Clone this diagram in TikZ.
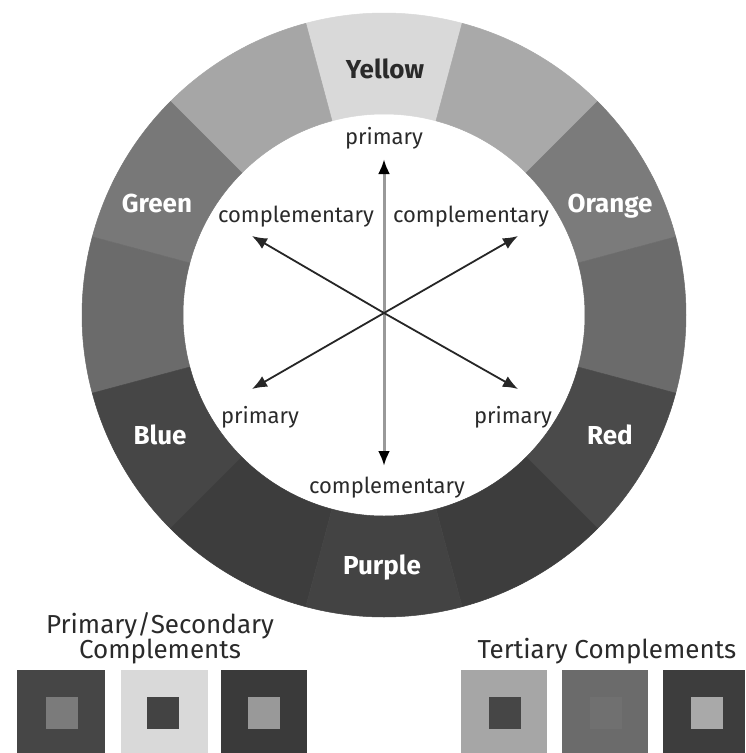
\documentclass[tikz,border=0pt]{standalone}
\usepackage{fontspec}
\setmainfont{Fira Sans}
\usetikzlibrary{arrows.meta}
\definecolor{cY}{HTML}{D9D9D9}
\definecolor{cYO}{HTML}{A9A9A9}
\definecolor{cYG}{HTML}{A6A6A6}
\definecolor{cO}{HTML}{7B7B7B}
\definecolor{cG}{HTML}{787878}
\definecolor{cRO}{HTML}{6B6B6B}
\definecolor{cBG}{HTML}{6B6B6B}
\definecolor{cR}{HTML}{4A4A4A}
\definecolor{cB}{HTML}{464646}
\definecolor{cRP}{HTML}{3D3D3D}
\definecolor{cBP}{HTML}{3D3D3D}
\definecolor{cP}{HTML}{434343}
\definecolor{sw3out}{HTML}{3A3A3A}
\definecolor{sw3in}{HTML}{999999}
\definecolor{sw5in}{HTML}{707070}
\definecolor{txtdark}{HTML}{2A2A2A}
\definecolor{vline}{HTML}{999999}
\begin{document}
\begin{tikzpicture}[x=1pt,y=-1pt,
  inlabel/.style={anchor=base,inner sep=0pt,text=txtdark,font=\fontsize{22}{24}\selectfont},
  collabel/.style={anchor=base,inner sep=0pt,text=white,font=\fontsize{26}{28}\selectfont\bfseries},
  title/.style={anchor=base,inner sep=0pt,text=txtdark,font=\fontsize{26}{28}\selectfont},
  tip/.style={Latex[length=15pt,width=12pt,color=black]},
  diag/.style={draw=black!85,line width=1.8pt,{Latex[length=15pt,width=12pt]}-{Latex[length=15pt,width=12pt]}},
  vert/.style={draw=vline,line width=3pt,{Latex[length=15pt,width=12pt,color=black]}-{Latex[length=15pt,width=12pt,color=black]}}
]
\useasboundingbox (0,0) rectangle (745,753);
\fill[white] (0,0) rectangle (745,753);

% colour wheel
\begin{scope}[shift={(384,315)},y=1pt]
  \foreach \a/\c in {90/cY,60/cYO,120/cYG,30/cO,150/cG,0/cRO,180/cBG,-30/cR,210/cB,-60/cRP,240/cBP,270/cP}{
    \filldraw[fill=\c,draw=\c,line width=0.5pt,line join=round] ({\a-15}:302) arc[start angle=\a-15,end angle=\a+15,radius=302]
      -- ({\a+15}:201) arc[start angle=\a+15,end angle=\a-15,radius=201] -- cycle;
  }
\end{scope}

% arrows
\coordinate (O) at (384,313);
\coordinate (tT) at (384,159);
\coordinate (tB) at (384,466);
\coordinate (tUL) at (252,236);
\coordinate (tUR) at (518,236);
\coordinate (tLL) at (252,389);
\coordinate (tLR) at (518,389);
\draw[vert] (tB) -- (O) -- (tT);
\draw[diag] (tLL) -- (O) -- (tUR);
\draw[diag] (tUL) -- (O) -- (tLR);

% inner labels
\node[inlabel] (pT) at (384,144) {primary};
\node[inlabel] (cL) at (296,222) {complementary};
\node[inlabel] (cR) at (471,222) {complementary};
\node[inlabel] (pL) at (260,423) {primary};
\node[inlabel] (pR) at (513,423) {primary};
\node[inlabel] (cB) at (387,493) {complementary};

% colour names
\node[collabel,text=txtdark] (yellow) at (385,78) {Yellow};
\node[collabel] (green) at (157,212) {Green};
\node[collabel] (orange) at (610,212) {Orange};
\node[collabel] (blue) at (160,444) {Blue};
\node[collabel] (red) at (610,444) {Red};
\node[collabel] (purple) at (382,574) {Purple};

% bottom titles
\node[title] (t1) at (160,633) {Primary/Secondary};
\node[title] (t2) at (160,658) {Complements};
\node[title] (t3) at (607,658) {Tertiary Complements};

% swatches
\fill[cB] (17,670) rectangle (105,753);
\fill[cO] (46,697) rectangle (78,729);
\fill[cY] (121,670) rectangle (208,753);
\fill[cP] (147,697) rectangle (179,729);
\fill[sw3out] (221,670) rectangle (307,753);
\fill[sw3in] (248,697) rectangle (280,729);
\fill[cYG] (461,670) rectangle (547,753);
\fill[cB] (489,697) rectangle (521,729);
\fill[cRO] (562,670) rectangle (648,753);
\fill[sw5in] (590,697) rectangle (622,729);
\fill[cRP] (663,670) rectangle (745,753);
\fill[cYO] (691,697) rectangle (723,729);
\end{tikzpicture}
\end{document}
